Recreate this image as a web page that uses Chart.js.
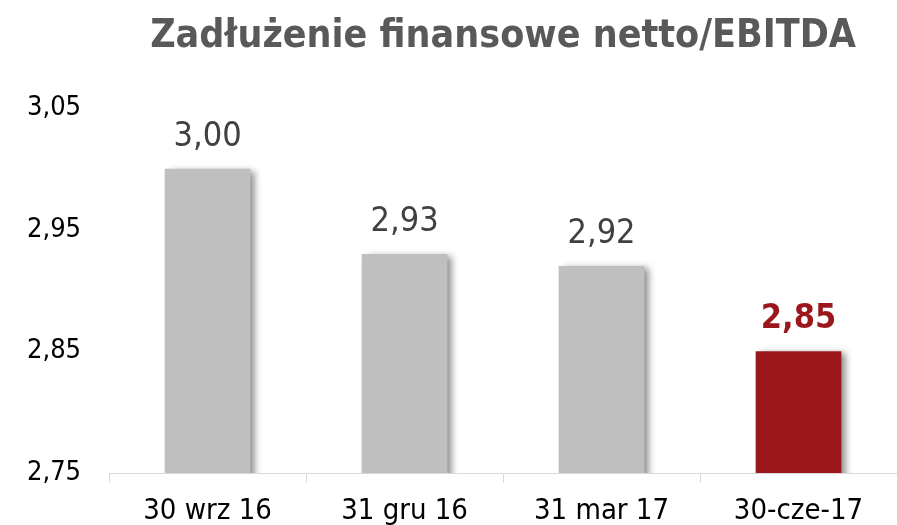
<!DOCTYPE html>
<html>
<head>
<meta charset="utf-8">
<script src="https://cdn.jsdelivr.net/npm/chart.js@4/dist/chart.umd.min.js"></script>
<style>
  html, body { margin: 0; padding: 0; background: #fff; }
  #wrap { width: 897px; height: 525px; }
</style>
</head>
<body>
<div id="wrap"><canvas id="debtChart"></canvas></div>
<script>
// data
const categories = ["30 wrz 16", "31 gru 16", "31 mar 17", "30-cze-17"];
const ratioValues = [3.0, 2.93, 2.92, 2.85];
const barColors = ["#bfbfbf", "#bfbfbf", "#bfbfbf", "#9b171c"];
const yTicks = [2.75, 2.85, 2.95, 3.05];

const fontFamily = "'DejaVu Sans Condensed', 'DejaVu Sans', sans-serif";

function plNumber(v) {
  return v.toFixed(2).replace(".", ",");
}

// soft shadow on the right of each bar
const barShadow = {
  id: "barShadow",
  beforeDatasetsDraw(chart) {
    const ctx = chart.ctx;
    ctx.save();
    ctx.shadowColor = "rgba(0, 0, 0, 0.45)";
    ctx.shadowBlur = 7;
    ctx.shadowOffsetX = 5;
    ctx.shadowOffsetY = 2;
  },
  afterDatasetsDraw(chart) {
    chart.ctx.restore();
  },
};

// value labels above the bars
const valueLabels = {
  id: "valueLabels",
  afterDatasetsDraw(chart) {
    const ctx = chart.ctx;
    const meta = chart.getDatasetMeta(0);
    ctx.save();
    ctx.textAlign = "center";
    ctx.textBaseline = "alphabetic";
    meta.data.forEach((bar, i) => {
      const last = i === ratioValues.length - 1;
      ctx.font = (last ? "bold " : "") + "34px " + fontFamily;
      ctx.fillStyle = last ? "#9b171c" : "#404040";
      ctx.fillText(plNumber(ratioValues[i]), bar.x, bar.y - 23);
    });
    ctx.restore();
  },
};

const ctx = document.getElementById("debtChart").getContext("2d");

let debtChart = new Chart(ctx, {
  type: "bar",
  data: {
    labels: categories,
    datasets: [
      {
        data: ratioValues,
        backgroundColor: barColors,
        borderWidth: 0,
        barPercentage: 0.435,
        categoryPercentage: 1,
      },
    ],
  },
  options: {
    responsive: true,
    maintainAspectRatio: false,
    animation: false,
    layout: {
      padding: { top: 13, left: 7, right: -3, bottom: 0 },
    },
    scales: {
      x: {
        afterFit: (scale) => {
          scale.height = 52;
        },
        grid: {
          display: true,
          drawOnChartArea: false,
          tickLength: 10,
          color: "#d9d9d9",
        },
        border: { color: "#d9d9d9", width: 1 },
        ticks: {
          color: "#000",
          padding: 11,
          font: { family: fontFamily, size: 29 },
        },
      },
      y: {
        min: 2.75,
        max: 3.05,
        afterBuildTicks: (axis) => {
          axis.ticks = yTicks.map((v) => ({ value: v }));
        },
        grid: { display: false },
        border: { display: false },
        ticks: {
          color: "#000",
          padding: 20,
          font: { family: fontFamily, size: 27 },
          callback: (value) => plNumber(value),
        },
      },
    },
    plugins: {
      legend: { display: false },
      tooltip: { enabled: false },
      title: {
        display: true,
        fullSize: false,
        text: "Zadłużenie finansowe netto/EBITDA",
        color: "#595959",
        padding: { top: 0, bottom: 48 },
        font: { family: fontFamily, size: 39, weight: "bold" },
      },
    },
  },
  plugins: [barShadow, valueLabels],
});
</script>
</body>
</html>
